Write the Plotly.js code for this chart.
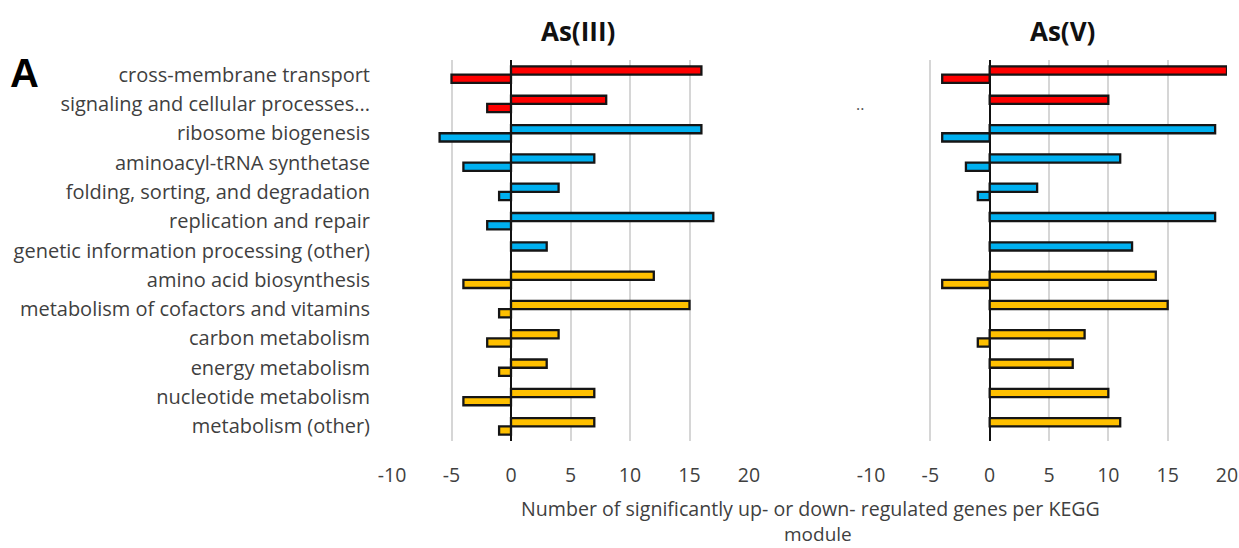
<!DOCTYPE html>
<html>
<head>
<meta charset="utf-8">
<script src="https://cdn.plot.ly/plotly-3.0.1.min.js"></script>
<style>html,body{margin:0;padding:0;background:#fff;}#chart{width:1239px;height:548px;}</style>
</head>
<body>
<div id="chart"></div>
<script>
// ---- data ----
const categories = [
  "cross-membrane transport",
  "signaling and cellular processes...",
  "ribosome biogenesis",
  "aminoacyl-tRNA synthetase",
  "folding, sorting, and degradation",
  "replication and repair",
  "genetic information processing (other)",
  "amino acid biosynthesis",
  "metabolism of cofactors and vitamins",
  "carbon metabolism",
  "energy metabolism",
  "nucleotide metabolism",
  "metabolism (other)"
];
const groups = ["transport","transport","genetic","genetic","genetic","genetic","genetic",
                "metabolism","metabolism","metabolism","metabolism","metabolism","metabolism"];
const as3Up   = [16, 8, 16, 7, 4, 17, 3, 12, 15, 4, 3, 7, 7];
const as3Down = [-5, -2, -6, -4, -1, -2, 0, -4, -1, -2, -1, -4, -1];
const as5Up   = [20, 10, 19, 11, 4, 19, 12, 14, 15, 8, 7, 10, 11];
const as5Down = [-4, 0, -4, -2, -1, 0, 0, -4, 0, -1, 0, 0, 0];
const panelTitles = ["As(III)", "As(V)"];
const xTicks = [-10, -5, 0, 5, 10, 15, 20];
const xTitleLines = ["Number of significantly up- or down- regulated genes per KEGG", "module"];

// ---- style ----
const groupColors = {transport: "#ff0000", genetic: "#00b0f0", metabolism: "#ffc000"};
const colors = groups.map(g => groupColors[g]);
const nz = arr => arr.map(v => v === 0 ? null : v);
const FONT = "'Open Sans', Lato, sans-serif";
const TXT = "#3f3f3f";
const PH = 381; // plot height in px (60 .. 441)

function bar(vals, xa, ya) {
  return {
    type: "bar", orientation: "h",
    x: nz(vals), y: categories,
    xaxis: xa, yaxis: ya,
    marker: {color: colors, line: {color: "#151515", width: 2.3}},
    hoverinfo: "x+y", showlegend: false
  };
}

const traces = [
  bar(as3Up, "x", "y"), bar(as3Down, "x", "y"),
  bar(as5Up, "x2", "y2"), bar(as5Down, "x2", "y2")
];

function xaxisDef(domain, anchor) {
  return {
    domain: domain, anchor: anchor, range: [-10, 20],
    tickvals: xTicks, ticktext: xTicks.map(String),
    showgrid: true, gridcolor: "#d6d6d6", gridwidth: 2,
    zeroline: true, zerolinecolor: "#111", zerolinewidth: 2,
    showline: false, ticks: "", ticklabelstandoff: 20,
    tickfont: {family: FONT, size: 19.5, color: TXT}, fixedrange: true
  };
}
function yaxisDef(anchor, showLabels) {
  return {
    anchor: anchor, type: "category", autorange: "reversed",
    showgrid: false, zeroline: false, showline: false,
    showticklabels: showLabels, ticks: "", ticklabelstandoff: 21,
    tickfont: {family: FONT, size: 20, color: TXT}, fixedrange: true
  };
}

const layout = {
  width: 1239, height: 548,
  margin: {l: 0, r: 0, t: 60, b: 107},
  paper_bgcolor: "#fff", plot_bgcolor: "rgba(0,0,0,0)",
  barmode: "group", bargap: 0.44, bargroupgap: 0,
  xaxis: xaxisDef([392/1239, 749/1239], "y"),
  yaxis: yaxisDef("x", true),
  xaxis2: xaxisDef([871/1239, 1227/1239], "y2"),
  yaxis2: yaxisDef("x2", false),
  annotations: [
    {text: "<b>" + panelTitles[0] + "</b>", xref: "paper", yref: "paper",
     x: 578/1239, y: 1 + (60-31)/PH, xanchor: "center", yanchor: "middle", showarrow: false,
     font: {family: FONT, size: 26, color: "#111"}},
    {text: "<b>" + panelTitles[1] + "</b>", xref: "paper", yref: "paper",
     x: 1062/1239, y: 1 + (60-31)/PH, xanchor: "center", yanchor: "middle", showarrow: false,
     font: {family: FONT, size: 26, color: "#111"}},
    {text: "<b>A</b>", xref: "paper", yref: "paper",
     x: 8/1239, y: 1 - (73-60)/PH, xanchor: "left", yanchor: "middle", showarrow: false,
     font: {family: "'Liberation Sans', Arial, sans-serif", size: 40, color: "#000"}},
    {text: "..", xref: "paper", yref: "paper",
     x: 860/1239, y: 1 - (104-60)/PH, xanchor: "center", yanchor: "middle", showarrow: false,
     font: {family: FONT, size: 16, color: "#555"}},
    {text: xTitleLines[0], xref: "paper", yref: "paper",
     x: 811/1239, y: -(508-441)/PH, xanchor: "center", yanchor: "middle", showarrow: false,
     font: {family: FONT, size: 19.6, color: TXT}},
    {text: xTitleLines[1], xref: "paper", yref: "paper",
     x: 818/1239, y: -(534-441)/PH, xanchor: "center", yanchor: "middle", showarrow: false,
     font: {family: FONT, size: 19, color: TXT}}
  ]
};

Plotly.newPlot("chart", traces, layout, {displayModeBar: false, staticPlot: true});
</script>
</body>
</html>
